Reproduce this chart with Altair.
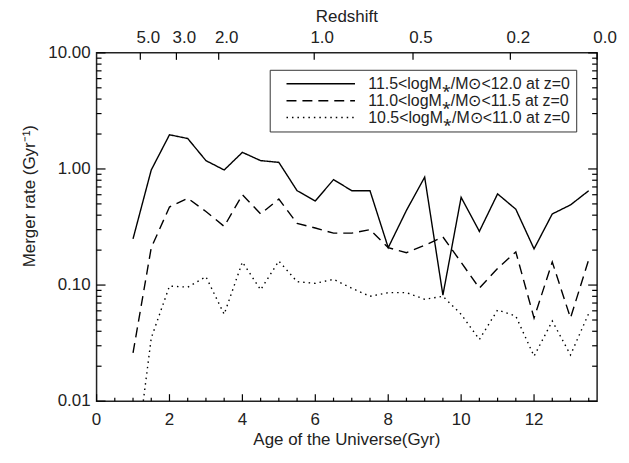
import altair as alt
import pandas as pd

# ---------------- data ----------------
age = [1.0, 1.5, 2.0, 2.5, 3.0, 3.5, 4.0, 4.5, 5.0, 5.5, 6.0, 6.5, 7.0,
       7.5, 8.0, 8.5, 9.0, 9.5, 10.0, 10.5, 11.0, 11.5, 12.0, 12.5, 13.0, 13.5]
rate_high = [0.25, 0.98, 1.97, 1.83, 1.18, 0.98, 1.39, 1.18, 1.14, 0.65, 0.53, 0.81, 0.65,
             0.65, 0.21, 0.44, 0.85, 0.082, 0.57, 0.29, 0.61, 0.45, 0.205, 0.41, 0.49, 0.65]
rate_mid = [0.026, 0.21, 0.47, 0.56, 0.43, 0.32, 0.60, 0.41, 0.55, 0.34, 0.31, 0.28, 0.28,
            0.30, 0.21, 0.19, 0.22, 0.26, 0.157, 0.094, 0.139, 0.193, 0.052, 0.158, 0.052, 0.166]
rate_low = [0.002, 0.035, 0.098, 0.096, 0.118, 0.056, 0.158, 0.091, 0.161, 0.107, 0.1035, 0.112, 0.094,
            0.080, 0.086, 0.086, 0.0755, 0.080, 0.056, 0.034, 0.061, 0.054, 0.0244, 0.049, 0.025, 0.057]

series_names = ["11.5<logM⁎/M⊙<12.0 at z=0",
                "11.0<logM⁎/M⊙<11.5 at z=0",
                "10.5<logM⁎/M⊙<11.0 at z=0"]

# redshift ticks on the top axis (age of the universe at that redshift, Gyr)
z_labels = ["5.0", "3.0", "2.0", "1.0", "0.5", "0.2", "0.0"]
z_ages = [1.20, 2.19, 3.35, 5.97, 8.68, 11.35, 13.73]

x_major = [0, 2, 4, 6, 8, 10, 12]
x_labels = ["0", "2", "4", "6", "8", "10", "12"]
x_minor = [v / 2 for v in range(1, 28) if v % 4 != 0]
y_major = [0.01, 0.1, 1.0, 10.0]
y_labels = ["0.01", "0.10", "1.00", "10.00"]
y_minor = [m * d for d in (0.01, 0.1, 1.0) for m in range(2, 10)]

x_title = "Age of the Universe(Gyr)"
y_title = "Merger rate (Gyr⁻¹)"
top_title = "Redshift"

# ---------------- tables ----------------
rows = []
for name, vals in zip(series_names, [rate_high, rate_mid, rate_low]):
    for a, r in zip(age, vals):
        rows.append({"age": a, "rate": r, "series": name})
df = pd.DataFrame(rows)

W, H = 503, 350
FONT = "Liberation Sans"
INK = "#222222"
FS = 17
X0, X1 = 0.0, 13.73
Y0, Y1 = 0.01, 10.0

xscale = alt.Scale(domain=[X0, X1], nice=False, zero=False)
yscale = alt.Scale(type="log", domain=[Y0, Y1], nice=False)

# inward tick segments (tick lengths given in pixels, converted through the scales)
DEC_PX = H / 3.0          # pixels per decade on the y axis
GYR_PX = W / (X1 - X0)    # pixels per Gyr on the x axis
tick_rows = []
tid = 0


def add_seg(a0, r0, a1, r1):
    global tid
    tick_rows.append({"age": a0, "rate": r0, "tick": tid})
    tick_rows.append({"age": a1, "rate": r1, "tick": tid})
    tid += 1


for v in x_major:
    add_seg(v, Y0, v, Y0 * 10 ** (7 / DEC_PX))
for v in x_minor:
    add_seg(v, Y0, v, Y0 * 10 ** (3.5 / DEC_PX))
for v in z_ages:
    add_seg(v, Y1, v, Y1 * 10 ** (-7 / DEC_PX))
for v in y_major:
    add_seg(X0, v, X0 + 9 / GYR_PX, v)
    add_seg(X1, v, X1 - 9 / GYR_PX, v)
for v in y_minor:
    add_seg(X0, v, X0 + 5 / GYR_PX, v)
    add_seg(X1, v, X1 - 5 / GYR_PX, v)
tick_df = pd.DataFrame(tick_rows)

ticks = alt.Chart(tick_df).mark_line(color="black", strokeWidth=1.2).encode(
    x=alt.X("age:Q", scale=xscale, axis=None),
    y=alt.Y("rate:Q", scale=yscale, axis=None),
    detail="tick:N",
)

lines = alt.Chart(df).mark_line(clip=True, color="black", strokeWidth=1.4).encode(
    x=alt.X("age:Q", scale=xscale, axis=None),
    y=alt.Y("rate:Q", scale=yscale, axis=None),
    strokeDash=alt.StrokeDash(
        "series:N",
        scale=alt.Scale(domain=series_names, range=[[1, 0], [10, 6], [1.5, 4]]),
        legend=alt.Legend(orient="none", legendX=174, legendY=17, title=None,
                          symbolType="M0.41,0H10.24", symbolSize=196,
                          symbolStrokeWidth=1.5, symbolStrokeColor="black",
                          symbolOffset=0, labelOffset=77,
                          labelFontSize=16, labelFont=FONT, labelColor=INK,
                          labelLimit=400, rowPadding=1,
                          strokeColor="#333333", fillColor="white", padding=6),
    ),
)


def text_props(**kw):
    base = dict(font=FONT, fontSize=FS, color=INK, baseline="middle", align="center")
    base.update(kw)
    return base


ztext = alt.Chart(pd.DataFrame({"v": z_ages, "lab": z_labels})).mark_text(
    **text_props(dx=8)).encode(
    x=alt.X("v:Q", scale=xscale, axis=None), y=alt.value(-15), text="lab:N")

xtext = alt.Chart(pd.DataFrame({"v": x_major, "lab": x_labels})).mark_text(
    **text_props()).encode(
    x=alt.X("v:Q", scale=xscale, axis=None), y=alt.value(H + 19), text="lab:N")

ytext = alt.Chart(pd.DataFrame({"v": y_major, "lab": y_labels})).mark_text(
    **text_props(align="right")).encode(
    y=alt.Y("v:Q", scale=yscale, axis=None), x=alt.value(-6), text="lab:N")

xtitle = alt.Chart(pd.DataFrame({"lab": [x_title]})).mark_text(**text_props()).encode(
    x=alt.value(W / 2), y=alt.value(H + 39), text="lab:N")
ytitle = alt.Chart(pd.DataFrame({"lab": [y_title]})).mark_text(
    **text_props(angle=270)).encode(
    x=alt.value(-67), y=alt.value(144), text="lab:N")
ttitle = alt.Chart(pd.DataFrame({"lab": [top_title]})).mark_text(**text_props()).encode(
    x=alt.value(W / 2), y=alt.value(-36), text="lab:N")

chart = alt.layer(
    ticks,
    ztext, xtext, ytext, xtitle, ytitle, ttitle,
    lines,
).properties(
    width=W, height=H,
    autosize=alt.AutoSizeParams(type="none"),
    padding={"left": 89, "top": 44, "right": 24, "bottom": 50},
).configure_view(stroke=INK, strokeWidth=1.5)

chart.save("out.html", embed_options={"renderer": "svg", "actions": False})
